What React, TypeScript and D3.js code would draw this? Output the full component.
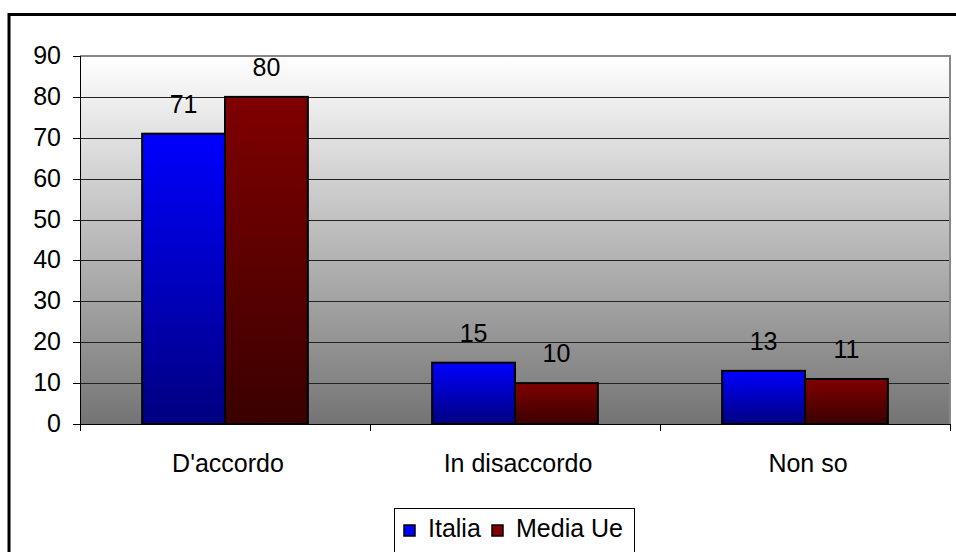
import React from "react";
import * as d3 from "d3";

const categories = ["D'accordo", "In disaccordo", "Non so"];
const seriesNames = ["Italia", "Media Ue"];
const italia = [71, 15, 13];
const mediaUe = [80, 10, 11];
const yTicks = [0, 10, 20, 30, 40, 50, 60, 70, 80, 90];

const W = 956;
const H = 552;
const plot = { left: 80, right: 950, top: 56, bottom: 424 };
const FONT = "'Liberation Sans', Arial, sans-serif";
const FS = 25;

export default function App() {
  const x0 = d3
    .scaleBand<string>()
    .domain(categories)
    .range([plot.left, plot.right])
    .paddingInner(0)
    .paddingOuter(0);
  const barW = x0.bandwidth() / 3.5;
  const x1 = d3
    .scaleBand<string>()
    .domain(seriesNames)
    .range([0, barW * 2]);
  const y = d3.scaleLinear().domain([0, 90]).range([plot.bottom, plot.top]);

  const data = categories.map((c, i) => ({ cat: c, values: [italia[i], mediaUe[i]] }));
  const fills = ["url(#gBlue)", "url(#gRed)"];
  const legendFill = ["#0000ff", "#800000"];

  return (
    <svg
      width={W}
      height={H}
      style={{ position: "absolute", left: 0, top: 0, background: "#fff" }}
      fontFamily={FONT}
    >
      <defs>
        <linearGradient id="gBg" x1="0" y1="0" x2="0" y2="1">
          <stop offset="0" stopColor="#ffffff" />
          <stop offset="1" stopColor="#747474" />
        </linearGradient>
        <linearGradient id="gBlue" x1="0" y1="0" x2="0" y2="1">
          <stop offset="0" stopColor="#0000ff" />
          <stop offset="1" stopColor="#000080" />
        </linearGradient>
        <linearGradient id="gRed" x1="0" y1="0" x2="0" y2="1">
          <stop offset="0" stopColor="#800000" />
          <stop offset="1" stopColor="#3a0000" />
        </linearGradient>
      </defs>

      {/* outer frame */}
      <path d={`M9,${H + 5} V14.5 H${W + 5}`} fill="none" stroke="#000" strokeWidth={3} />

      {/* plot background */}
      <rect
        x={plot.left}
        y={plot.top}
        width={plot.right - plot.left}
        height={plot.bottom - plot.top}
        fill="url(#gBg)"
      />
      <path
        d={`M${plot.left},${plot.top} H${plot.right} V${plot.bottom}`}
        fill="none"
        stroke="#888"
        strokeWidth={2}
      />

      {/* gridlines */}
      {yTicks.slice(1, -1).map((t) => (
        <line
          key={t}
          x1={plot.left}
          x2={plot.right - 1}
          y1={Math.round(y(t)) + 0.5}
          y2={Math.round(y(t)) + 0.5}
          stroke="#222"
          strokeWidth={1}
        />
      ))}

      {/* bars */}
      {data.map((d) => (
        <g key={d.cat} transform={`translate(${(x0(d.cat) as number) + x0.bandwidth() / 2 - barW},0)`}>
          {d.values.map((v, j) => (
            <rect
              key={j}
              x={x1(seriesNames[j]) as number}
              y={y(v)}
              width={barW}
              height={plot.bottom - y(v)}
              fill={fills[j]}
              stroke="#000"
              strokeWidth={2}
            />
          ))}
          {d.values.map((v, j) => (
            <text
              key={"t" + j}
              x={(x1(seriesNames[j]) as number) + barW / 2}
              y={y(v) - 21}
              textAnchor="middle"
              fontSize={FS}
              fill="#000"
            >
              {v}
            </text>
          ))}
        </g>
      ))}

      {/* axes */}
      <line x1={plot.left + 0.5} x2={plot.left + 0.5} y1={plot.top} y2={plot.bottom + 7} stroke="#000" strokeWidth={1} />
      <line x1={plot.left} x2={plot.right} y1={plot.bottom + 0.5} y2={plot.bottom + 0.5} stroke="#000" strokeWidth={1} />
      {yTicks.map((t) => (
        <g key={t}>
          <line
            x1={plot.left - 7}
            x2={plot.left}
            y1={Math.round(y(t)) + 0.5}
            y2={Math.round(y(t)) + 0.5}
            stroke="#000"
          />
          <text x={plot.left - 19} y={y(t) + 8} textAnchor="end" fontSize={FS} fill="#000">
            {t}
          </text>
        </g>
      ))}
      {[...categories.map((c) => x0(c) as number), plot.right].map((xv, i) => (
        <line key={i} x1={xv + 0.5} x2={xv + 0.5} y1={plot.bottom} y2={plot.bottom + 7} stroke="#000" />
      ))}
      {categories.map((c) => (
        <text
          key={c}
          x={(x0(c) as number) + x0.bandwidth() / 2 + 3}
          y={472}
          textAnchor="middle"
          fontSize={FS}
          fill="#000"
        >
          {c}
        </text>
      ))}

      {/* legend */}
      <rect x={394.5} y={508.5} width={240} height={60} fill="#fff" stroke="#000" strokeWidth={1} />
      {seriesNames.map((s, i) => {
        const lx = i === 0 ? 404 : 492;
        return (
          <g key={s}>
            <rect x={lx} y={525} width={11} height={11} fill={legendFill[i]} stroke="#000" strokeWidth={1.5} />
            <text x={lx + 24} y={537} fontSize={FS} fill="#000">
              {s}
            </text>
          </g>
        );
      })}
    </svg>
  );
}
